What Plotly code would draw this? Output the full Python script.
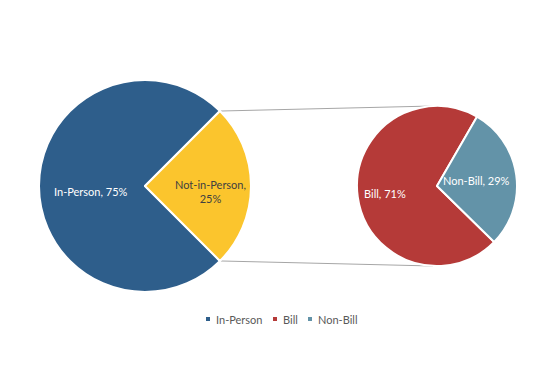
import math
import plotly.graph_objects as go

W, H = 550, 365
OX, OY = 8, 8  # page body margin offset of the rendered figure

# Data
main_labels = ["In-Person", "Not-in-Person"]
main_values = [75, 25]
sub_labels = ["Bill", "Non-Bill"]
sub_values = [71, 29]
legend_labels = ["In-Person", "Bill", "Non-Bill"]

# Styles
main_colors = ["#2E5E8B", "#FBC52D"]
sub_colors = ["#B53A38", "#6393A8"]
legend_colors = ["#2E5E8B", "#B53A38", "#6393A8"]
main_text_colors = ["white", "#404040"]
sub_text_colors = ["white", "white"]
main_label_frac = [0.51, 0.62]
sub_label_frac = [0.65, 0.50]
legend_px = [208, 275, 310]
legend_py = 319

FONT = "Lato, 'Open Sans', sans-serif"

# geometry (image pixels, from top-left)
L_cx, L_cy, L_r = 145, 186, 106
R_cx, R_cy, R_r = 437, 186, 80
SUB_START = 30  # degrees clockwise from top where Non-Bill starts


def px(x):
    return (x - OX) / W


def py(y):
    return (H - (y - OY)) / H


def dom(cx, cy, r):
    return dict(x=[px(cx - r), px(cx + r)], y=[py(cy + r), py(cy - r)])


fig = go.Figure()

main_tot = sum(main_values)
main_angle = 360 * main_values[1] / main_tot
main_rot = 90 + main_angle / 2  # In-Person starts here, clockwise
fig.add_trace(go.Pie(
    labels=main_labels, values=main_values, sort=False, direction="clockwise",
    rotation=main_rot, domain=dom(L_cx, L_cy, L_r),
    marker=dict(colors=main_colors, line=dict(color="white", width=2)),
    textinfo="none", showlegend=False, hoverinfo="label+percent",
))

sub_tot = sum(sub_values)
sub_angle = 360 * sub_values[1] / sub_tot
sub_rot = SUB_START + sub_angle  # Bill starts after Non-Bill ends
fig.add_trace(go.Pie(
    labels=sub_labels, values=sub_values, sort=False, direction="clockwise",
    rotation=sub_rot, domain=dom(R_cx, R_cy, R_r),
    marker=dict(colors=sub_colors, line=dict(color="white", width=2)),
    textinfo="none", showlegend=False, hoverinfo="label+percent",
))


def add_labels(labels, values, rot, cx, cy, r, fracs, colors, texts):
    tot = sum(values)
    start = rot
    for lab, v, f, c, t in zip(labels, values, fracs, colors, texts):
        span = 360 * v / tot
        mid = math.radians(start + span / 2)
        x = cx + f * r * math.sin(mid)
        y = cy - f * r * math.cos(mid)
        fig.add_annotation(x=px(x), y=py(y), xref="paper", yref="paper",
                           text=t, showarrow=False, align="center",
                           xanchor="center", yanchor="middle",
                           font=dict(family=FONT, size=11, color=c))
        start += span


main_texts = [f"{main_labels[0]}, {main_values[0]}%",
              f"{main_labels[1]},<br>{main_values[1]}%"]
sub_texts = [f"{l}, {v}%" for l, v in zip(sub_labels, sub_values)]
add_labels(main_labels, main_values, main_rot, L_cx, L_cy + 6, L_r,
           main_label_frac, main_text_colors, main_texts)
add_labels(sub_labels, sub_values, sub_rot, R_cx, R_cy, R_r,
           sub_label_frac, sub_text_colors, sub_texts)

# connector lines from split points of main pie to top/bottom of sub pie
half = math.radians(main_angle / 2)
ux = L_cx + L_r * math.cos(half)
for sgn in (-1, 1):
    uy = L_cy + sgn * L_r * math.sin(half)
    fig.add_shape(type="line", xref="paper", yref="paper",
                  x0=px(ux), y0=py(uy), x1=px(R_cx - 4), y1=py(R_cy + sgn * R_r),
                  line=dict(color="#A6A6A6", width=1), layer="below")

# legend
for lab, col, lx in zip(legend_labels, legend_colors, legend_px):
    fig.add_shape(type="rect", xref="paper", yref="paper",
                  x0=px(lx - 2), x1=px(lx + 2), y0=py(legend_py + 2), y1=py(legend_py - 2),
                  fillcolor=col, line=dict(width=0))
    fig.add_annotation(x=px(lx + 6), y=py(legend_py), xref="paper", yref="paper",
                       text=lab, showarrow=False, xanchor="left", yanchor="middle",
                       font=dict(family=FONT, size=11, color="#595959"))

fig.update_layout(
    width=W, height=H,
    margin=dict(l=0, r=0, t=0, b=0),
    paper_bgcolor="white", plot_bgcolor="white",
    font=dict(family=FONT, size=11, color="#595959"),
    showlegend=False,
)

fig.write_html("out.html")
